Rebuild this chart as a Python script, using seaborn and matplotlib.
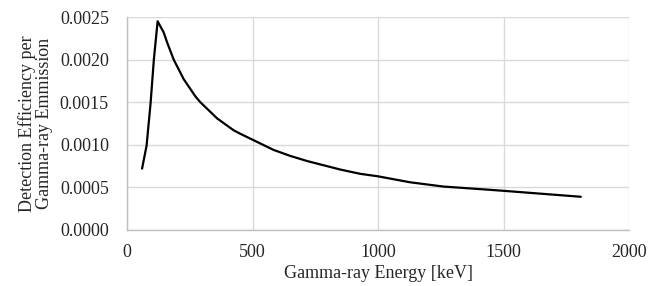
import matplotlib
matplotlib.use("Agg")
import matplotlib.pyplot as plt
import seaborn as sns
import pandas as pd

# values
energy_kev = [60, 78, 94, 107, 122, 146, 160, 186, 226, 272, 292, 359, 425, 451, 500,
              584, 650, 717, 783, 849, 928, 1000, 1128, 1260, 1406, 1500, 1632, 1808]
efficiency = [0.00072, 0.00099, 0.00149, 0.00200, 0.00245, 0.00232, 0.00220, 0.00200,
              0.00177, 0.00157, 0.00150, 0.00131, 0.00117, 0.00113, 0.00106,
              0.00094, 0.00087, 0.00081, 0.00076, 0.00071, 0.00066, 0.00063,
              0.00056, 0.00051, 0.00048, 0.00046, 0.00043, 0.00039]
x_ticks = [0, 500, 1000, 1500, 2000]
y_ticks = [0.0, 0.0005, 0.0010, 0.0015, 0.0020, 0.0025]

df = pd.DataFrame({"energy": energy_kev, "eff": efficiency})

sns.set_style("whitegrid")
plt.rcParams["font.family"] = ["Liberation Serif", "DejaVu Serif"]

fig = plt.figure(figsize=(6.55, 2.86), dpi=100)
ax = fig.add_axes([127 / 655, 1 - 230 / 286, (629 - 127) / 655, (230 - 17) / 286])

sns.lineplot(data=df, x="energy", y="eff", color="black", linewidth=1.6, ax=ax)

ax.set_xlim(0, 2000)
ax.set_ylim(0, 0.0025)
ax.set_xticks(x_ticks)
ax.set_yticks(y_ticks)
ax.set_yticklabels([f"{v:.4f}" for v in y_ticks])
ax.tick_params(axis="both", labelsize=13, length=0)
ax.tick_params(axis="y", pad=13)
ax.tick_params(axis="x", pad=10)
ax.grid(True, color="#d9d9d9", linewidth=1.0)
for side in ["top", "right"]:
    ax.spines[side].set_visible(False)
for side in ["left", "bottom"]:
    ax.spines[side].set_color("#bfbfbf")
    ax.spines[side].set_linewidth(1.0)

ax.set_xlabel("Gamma-ray Energy [keV]", fontsize=13, labelpad=3)
ax.set_ylabel("Detection Efficiency per\nGamma-ray Emmission", fontsize=13,
              labelpad=5, linespacing=1.0)

fig.savefig("out.png", dpi=100)
plt.close(fig)
